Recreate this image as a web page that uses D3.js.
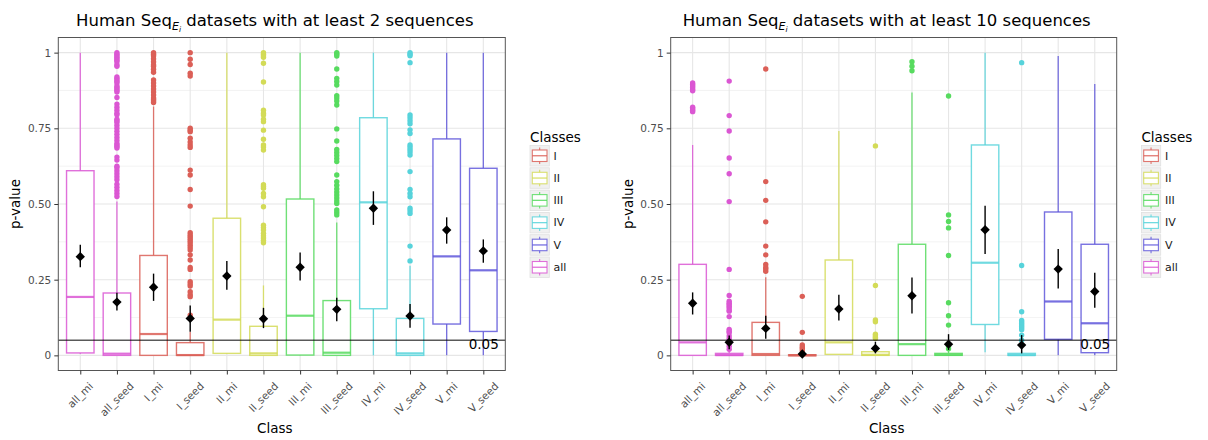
<!DOCTYPE html>
<html>
<head>
<meta charset="utf-8">
<script src="https://cdn.jsdelivr.net/npm/d3@7"></script>
<style>
  body { margin: 0; background: #fff; }
  text { font-family: "DejaVu Sans", sans-serif; }
</style>
</head>
<body>
<div id="chart"></div>
<script>
// categories and classes
var cats = ["all_mi", "all_seed", "I_mi", "I_seed", "II_mi", "II_seed",
            "III_mi", "III_seed", "IV_mi", "IV_seed", "V_mi", "V_seed"]
var classes = ["I", "II", "III", "IV", "V", "all"]
var classColors = ["#db5f57", "#d3db57", "#57db5f", "#57d3db", "#5f57db", "#db57d3"]
var yTicks = [0, 0.25, 0.5, 0.75, 1]
var yTickLabels = ["0", "0.25", "0.50", "0.75", "1"]
var threshold = 0.05

// ---- panel 1 : at least 2 sequences
var p1_whiskLo = [0.005, 0, 0, 0, 0.005, 0, 0, 0, 0, 0, 0, 0]
var p1_q1      = [0.008, 0, 0, 0, 0.0066, 0, 0.001, 0, 0.154, 0, 0.1035, 0.079]
var p1_median  = [0.193, 0.0055, 0.0705, 0.001, 0.118, 0.0066, 0.131, 0.0088, 0.5055, 0.0066, 0.327, 0.281]
var p1_q3      = [0.610, 0.206, 0.330, 0.042, 0.453, 0.096, 0.5165, 0.181, 0.785, 0.122, 0.715, 0.618]
var p1_whiskHi = [1.0, 0.508, 0.822, 0.077, 1.0, 0.231, 1.0, 0.439, 1.0, 0.296, 1.0, 1.0]
var p1_mean    = [0.326, 0.176, 0.225, 0.122, 0.262, 0.121, 0.291, 0.152, 0.486, 0.13, 0.414, 0.345]
var p1_errLo   = [0.291, 0.148, 0.18, 0.078, 0.217, 0.09, 0.247, 0.113, 0.431, 0.091, 0.369, 0.306]
var p1_errHi   = [0.365, 0.207, 0.27, 0.165, 0.312, 0.157, 0.340, 0.19, 0.542, 0.17, 0.456, 0.383]
var p1_outliers = [
  [],
  [1.0, 0.995, 0.99, 0.985, 0.98, 0.975, 0.97, 0.96, 0.955, 0.92, 0.915, 0.91, 0.905, 0.9, 0.89, 0.885,
   0.88, 0.875, 0.87, 0.852, 0.83, 0.82, 0.81, 0.8, 0.795, 0.78, 0.775, 0.77, 0.76, 0.75, 0.74, 0.73,
   0.72, 0.71, 0.70, 0.695, 0.69, 0.685, 0.655, 0.645, 0.625, 0.62, 0.61, 0.6, 0.59, 0.58, 0.565,
   0.555, 0.545, 0.535, 0.525],
  [1.0, 0.995, 0.99, 0.98, 0.97, 0.96, 0.955, 0.945, 0.935, 0.91, 0.9, 0.89, 0.88, 0.87, 0.86, 0.85,
   0.845, 0.84, 0.835],
  [1.0, 0.978, 0.961, 0.932, 0.923, 0.75, 0.744, 0.739, 0.717, 0.705, 0.695, 0.687, 0.612, 0.596,
   0.548, 0.493, 0.405, 0.398, 0.392, 0.385, 0.379, 0.372, 0.364, 0.356, 0.348, 0.332, 0.315, 0.29,
   0.284, 0.243, 0.236, 0.229, 0.21, 0.2, 0.194, 0.133, 0.122],
  [],
  [1.0, 0.995, 0.99, 0.985, 0.965, 0.903, 0.81, 0.80, 0.794, 0.78, 0.772, 0.744, 0.714, 0.695, 0.688,
   0.678, 0.564, 0.558, 0.552, 0.535, 0.524, 0.491, 0.43, 0.422, 0.414, 0.403, 0.395, 0.388, 0.38, 0.372],
  [],
  [1.0, 0.995, 0.989, 0.946, 0.915, 0.905, 0.893, 0.858, 0.85, 0.84, 0.827, 0.748, 0.708, 0.68, 0.67,
   0.66, 0.65, 0.64, 0.596, 0.574, 0.562, 0.55, 0.54, 0.53, 0.52, 0.51, 0.502, 0.48, 0.472, 0.464],
  [],
  [1.0, 0.995, 0.99, 0.967, 0.794, 0.785, 0.775, 0.765, 0.745, 0.733, 0.695, 0.688, 0.68, 0.672,
   0.662, 0.607, 0.548, 0.535, 0.524, 0.486, 0.478, 0.469, 0.361, 0.312],
  [],
  []
]

// ---- panel 2 : at least 10 sequences
var p2_whiskLo = [0, 0, 0, 0, 0.0033, 0, 0, 0, 0.01, 0, 0, 0]
var p2_q1      = [0, 0, 0, 0, 0.0033, 0, 0, 0, 0.102, 0, 0.053, 0.0088]
var p2_median  = [0.043, 0.001, 0.0044, 0.0005, 0.043, 0.002, 0.037, 0.002, 0.306, 0.001, 0.178, 0.106]
var p2_q3      = [0.3007, 0.0066, 0.109, 0.002, 0.315, 0.012, 0.367, 0.0066, 0.695, 0.0066, 0.4736, 0.367]
var p2_whiskHi = [0.695, 0.015, 0.258, 0.004, 0.741, 0.03, 0.868, 0.015, 1.0, 0.015, 0.989, 0.896]
var p2_mean    = [0.172, 0.043, 0.089, 0.0044, 0.153, 0.023, 0.197, 0.037, 0.415, 0.034, 0.285, 0.211]
var p2_errLo   = [0.135, 0.02, 0.055, 0.0, 0.115, 0.0066, 0.138, 0.018, 0.335, 0.0066, 0.221, 0.157]
var p2_errHi   = [0.208, 0.066, 0.131, 0.012, 0.2, 0.045, 0.257, 0.07, 0.494, 0.067, 0.351, 0.273]
var p2_outliers = [
  [0.9, 0.895, 0.89, 0.885, 0.878, 0.874, 0.82, 0.815, 0.81, 0.805],
  [0.906, 0.792, 0.741, 0.652, 0.6, 0.508, 0.284, 0.198, 0.179, 0.172, 0.168, 0.162, 0.157, 0.15,
   0.146, 0.128, 0.086, 0.08, 0.075, 0.064, 0.055, 0.047, 0.04, 0.03, 0.02],
  [0.946, 0.574, 0.512, 0.441, 0.361, 0.332, 0.30, 0.29, 0.285, 0.278],
  [0.195, 0.076, 0.034, 0.028, 0.023, 0.015],
  [],
  [0.692, 0.231, 0.117, 0.111, 0.07, 0.065, 0.06, 0.056],
  [0.97, 0.955, 0.94],
  [0.857, 0.464, 0.442, 0.421, 0.33, 0.174, 0.131, 0.1, 0.03, 0.022],
  [],
  [0.967, 0.297, 0.144, 0.115, 0.11, 0.105, 0.1, 0.095, 0.09, 0.085, 0.067, 0.05],
  [],
  []
]

var svg = d3.select("#chart").append("svg")
    .attr("width", 1208)
    .attr("height", 440)

var color = d3.scaleOrdinal().domain(classes).range(classColors)

function makeRows(wl, q1, med, q3, wh, mean, elo, ehi, outl) {
  return cats.map(function(c, i) {
    return {cat: c, cls: c.split("_")[0], wl: wl[i], q1: q1[i], med: med[i], q3: q3[i],
            wh: wh[i], mean: mean[i], elo: elo[i], ehi: ehi[i], out: outl[i]}
  })
}

function drawPanel(x0, x1, titleTail, rows) {
  var top = 37.5, bottom = 370.5
  var g = svg.append("g")
  var x = d3.scalePoint().domain(cats).range([x0, x1]).padding(0.6)
  var y = d3.scaleLinear().domain([-0.05, 1.05]).range([bottom, top])
  var bw = x.step() * 0.75

  // grid
  g.append("rect").attr("x", x0).attr("y", top).attr("width", x1 - x0).attr("height", bottom - top)
    .attr("fill", "#fff")
  g.selectAll(".minor").data([0.125, 0.375, 0.625, 0.875]).enter().append("line")
    .attr("x1", x0).attr("x2", x1).attr("y1", d => y(d)).attr("y2", d => y(d))
    .attr("stroke", "#f0f0f0").attr("stroke-width", 0.8)
  g.selectAll(".major").data(yTicks).enter().append("line")
    .attr("x1", x0).attr("x2", x1).attr("y1", d => y(d)).attr("y2", d => y(d))
    .attr("stroke", "#e6e6e6").attr("stroke-width", 1.1)
  g.selectAll(".vmajor").data(cats).enter().append("line")
    .attr("x1", d => x(d)).attr("x2", d => x(d)).attr("y1", top).attr("y2", bottom)
    .attr("stroke", "#e6e6e6").attr("stroke-width", 1.1)

  // boxplots
  var box = g.selectAll(".box").data(rows).enter().append("g")
    .attr("stroke", d => color(d.cls)).attr("stroke-opacity", 0.85)
  box.append("line").attr("x1", d => x(d.cat)).attr("x2", d => x(d.cat))
    .attr("y1", d => y(d.wh)).attr("y2", d => y(d.q3)).attr("stroke-width", 1.3)
  box.append("line").attr("x1", d => x(d.cat)).attr("x2", d => x(d.cat))
    .attr("y1", d => y(d.q1)).attr("y2", d => y(d.wl)).attr("stroke-width", 1.3)
  box.append("rect").attr("x", d => x(d.cat) - bw / 2).attr("width", bw)
    .attr("y", d => y(d.q3)).attr("height", d => Math.max(1, y(d.q1) - y(d.q3)))
    .attr("fill", "#fff").attr("stroke-width", 1.4)
  box.append("line").attr("x1", d => x(d.cat) - bw / 2).attr("x2", d => x(d.cat) + bw / 2)
    .attr("y1", d => y(d.med)).attr("y2", d => y(d.med)).attr("stroke-width", 2.2)

  // outliers
  rows.forEach(function(r) {
    g.selectAll(null).data(r.out).enter().append("circle")
      .attr("cx", x(r.cat)).attr("cy", d => y(d)).attr("r", 2.7)
      .attr("fill", color(r.cls))
  })

  // threshold line
  g.append("line").attr("x1", x0).attr("x2", x1)
    .attr("y1", y(threshold)).attr("y2", y(threshold))
    .attr("stroke", "#000").attr("stroke-opacity", 0.65).attr("stroke-width", 1.7)

  // mean +- error
  g.selectAll(".err").data(rows).enter().append("line")
    .attr("x1", d => x(d.cat)).attr("x2", d => x(d.cat))
    .attr("y1", d => y(d.elo)).attr("y2", d => y(d.ehi))
    .attr("stroke", "#000").attr("stroke-width", 1.4)
  g.selectAll(".mean").data(rows).enter().append("path")
    .attr("d", d3.symbol().type(d3.symbolSquare).size(44))
    .attr("transform", d => "translate(" + x(d.cat) + "," + y(d.mean) + ") rotate(45)")
    .attr("fill", "#000")

  g.append("text").attr("x", x1 - 6.5).attr("y", y(threshold) + 8.3)
    .attr("text-anchor", "end").attr("font-size", 13.5).attr("fill", "#000").text("0.05")

  // border
  g.append("rect").attr("x", x0).attr("y", top).attr("width", x1 - x0).attr("height", bottom - top)
    .attr("fill", "none").attr("stroke", "#555").attr("stroke-width", 1)

  // axes
  var ya = g.append("g").attr("transform", "translate(" + x0 + ",0)")
    .call(d3.axisLeft(y).tickValues(yTicks).tickSize(4).tickPadding(3)
      .tickFormat((d, i) => yTickLabels[i]))
  ya.select(".domain").remove()
  ya.selectAll(".tick line").attr("stroke", "#333")
  ya.selectAll(".tick text").attr("fill", "#4d4d4d").attr("font-size", 10.5)
    .attr("font-family", "DejaVu Sans")

  var xa = g.append("g").attr("transform", "translate(0," + bottom + ")")
    .call(d3.axisBottom(x).tickSize(4).tickFormat(""))
  xa.select(".domain").remove()
  xa.selectAll(".tick line").attr("stroke", "#333")

  g.selectAll(".xlab").data(cats).enter().append("text")
    .attr("font-size", 10.5).attr("fill", "#4d4d4d")
    .attr("text-anchor", "middle").attr("dy", "0.35em")
    .text(d => d)
    .each(function(d) {
      var w = this.getComputedTextLength()
      var h = 12
      var half = (w + h) * 0.7071 / 2
      d3.select(this).attr("transform",
        "translate(" + x(d) + "," + (380 + half) + ") rotate(-45)")
    })

  // titles
  var cx = (x0 + x1) / 2
  var t = g.append("text").attr("x", cx - 7).attr("y", 26).attr("text-anchor", "middle")
    .attr("font-size", 16.5).attr("fill", "#000")
  t.append("tspan").text("Human Seq")
  t.append("tspan").attr("font-size", 11).attr("font-style", "italic").attr("dy", 3.8).text("E")
  t.append("tspan").attr("font-size", 7.5).attr("font-style", "italic").attr("dy", 2.2).text("i")
  t.append("tspan").attr("dy", -6).text(" " + titleTail)

  g.append("text").attr("x", cx - 7).attr("y", 433).attr("text-anchor", "middle")
    .attr("font-size", 13.5).attr("fill", "#000").text("Class")
  g.append("text").attr("transform", "translate(" + (x0 - 38) + "," + ((top + bottom) / 2) + ") rotate(-90)")
    .attr("text-anchor", "middle").attr("font-size", 13.5).attr("fill", "#000").text("p-value")

  // legend
  var lx = x1 + 24.7
  g.append("text").attr("x", lx).attr("y", 141.5).attr("font-size", 13.5).attr("fill", "#000")
    .text("Classes")
  var key = g.selectAll(".key").data(classes).enter().append("g")
    .attr("transform", (d, i) => "translate(" + lx + "," + (145.5 + i * 22.3) + ")")
  key.append("rect").attr("width", 19.3).attr("height", 20.5)
    .attr("fill", "#f0f0f0").attr("stroke", "#e0e0e0").attr("stroke-width", 0.8)
  key.append("line").attr("x1", 9.65).attr("x2", 9.65).attr("y1", 2).attr("y2", 18.5)
    .attr("stroke", d => color(d)).attr("stroke-opacity", 0.85).attr("stroke-width", 1.1)
  key.append("rect").attr("x", 2.3).attr("y", 4.5).attr("width", 14.7).attr("height", 11.5)
    .attr("fill", "#fff").attr("stroke", d => color(d)).attr("stroke-opacity", 0.85).attr("stroke-width", 1.1)
  key.append("line").attr("x1", 2.3).attr("x2", 17).attr("y1", 10.25).attr("y2", 10.25)
    .attr("stroke", d => color(d)).attr("stroke-opacity", 0.85).attr("stroke-width", 1.3)
  key.append("text").attr("x", 23.5).attr("y", 10.25).attr("dy", "0.35em")
    .attr("font-size", 11).attr("fill", "#1a1a1a").text(d => d)
}

drawPanel(58.3, 505.3, "datasets with at least 2 sequences",
  makeRows(p1_whiskLo, p1_q1, p1_median, p1_q3, p1_whiskHi, p1_mean, p1_errLo, p1_errHi, p1_outliers))
drawPanel(670.7, 1116.7, "datasets with at least 10 sequences",
  makeRows(p2_whiskLo, p2_q1, p2_median, p2_q3, p2_whiskHi, p2_mean, p2_errLo, p2_errHi, p2_outliers))
</script>
</body>
</html>
